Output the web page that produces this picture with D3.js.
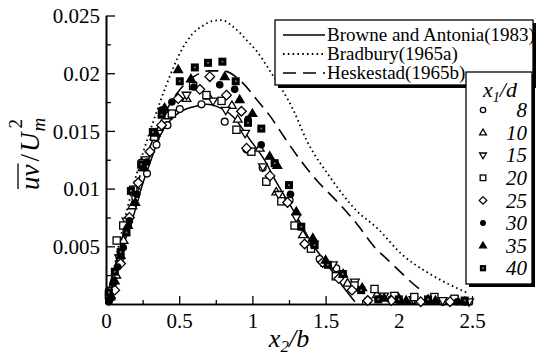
<!DOCTYPE html>
<html>
<head>
<meta charset="utf-8">
<script src="https://cdn.jsdelivr.net/npm/d3@7"></script>
<style>
  html, body { margin: 0; padding: 0; background: #fff; }
  svg { display: block; }
</style>
</head>
<body>
<svg id="chart" width="541" height="358"></svg>
<script>
// Reference curves: [x2/b, uv/Um^2]
const browneAntonia = [[0,0],[0.03,0.0019],[0.12,0.0052],[0.175,0.0071],[0.25,0.0104],[0.3,0.0122],[0.37,0.0146],[0.48,0.0164],[0.6,0.0171],[0.69,0.0173],[0.76,0.0171],[0.87,0.0162],[0.98,0.0143],[1.1,0.0121],[1.14,0.0111],[1.28,0.0081],[1.41,0.0052],[1.53,0.0031],[1.62,0.0015],[1.70,0.0002]];
const bradbury = [[0,0],[0.05,0.0028],[0.1,0.0058],[0.15,0.0085],[0.21,0.0113],[0.32,0.0157],[0.41,0.0189],[0.52,0.0221],[0.59,0.0234],[0.66,0.0241],[0.72,0.0245],[0.79,0.0246],[0.87,0.0240],[0.98,0.0226],[1.03,0.0219],[1.12,0.0202],[1.28,0.0168],[1.37,0.0142],[1.53,0.0110],[1.71,0.0081],[1.85,0.0066],[2.03,0.0042],[2.2,0.0027],[2.41,0.0013],[2.48,0.0009]];
const heskestad = [[0,0],[0.1,0.0052],[0.2,0.0098],[0.3,0.0136],[0.4,0.0165],[0.5,0.0185],[0.6,0.0197],[0.7,0.0202],[0.8,0.0202],[0.93,0.0192],[1.03,0.0177],[1.12,0.0163],[1.21,0.0146],[1.32,0.0126],[1.44,0.0107],[1.57,0.0090],[1.71,0.0070],[1.85,0.0047],[1.91,0.0040],[2.14,0.0013],[2.16,0.0011]];

const curveNames = ["Browne and Antonia(1983)", "Bradbury(1965a)", "Heskestad(1965b)"];

// Measured profiles for each x1/d station
const pts8 = [[0.02,0.0003],[0.05,0.0012],[0.1,0.0040],[0.15,0.0068],[0.2,0.0092],[0.28,0.0113],[0.345,0.0138],[0.42,0.0155],[0.504,0.0169],[0.652,0.0173],[0.811,0.0158],[0.959,0.0134],[1.07,0.0118],[1.254,0.0090],[1.459,0.0039],[1.573,0.0031],[1.70,0.0014],[1.788,0.0003],[1.95,0.0004],[2.1,0.0003],[2.3,0.0002],[2.45,0.0002]];
const pts10 = [[0.03,0.0008],[0.07,0.0025],[0.12,0.0055],[0.18,0.0085],[0.25,0.0118],[0.33,0.0145],[0.42,0.0163],[0.55,0.0178],[0.7,0.0180],[0.86,0.0172],[0.9,0.0160],[1.05,0.0135],[1.163,0.0097],[1.345,0.0060],[1.5,0.0035],[1.65,0.0018],[1.85,0.0008],[2.0,0.0005],[2.2,0.0004],[2.4,0.0003]];
const pts15 = [[0.04,0.0012],[0.09,0.0040],[0.14,0.0072],[0.2,0.0098],[0.27,0.0125],[0.36,0.0148],[0.55,0.0181],[0.731,0.0176],[0.818,0.0168],[0.95,0.0148],[1.072,0.0119],[1.18,0.0095],[1.3,0.0075],[1.42,0.0052],[1.55,0.0034],[1.7,0.0019],[1.9,0.0007],[2.1,0.0004],[2.3,0.0003],[2.48,0.0002]];
const pts20 = [[0.02,0.0008],[0.073,0.0055],[0.118,0.0068],[0.186,0.0099],[0.25,0.0122],[0.33,0.0145],[0.45,0.0165],[0.595,0.0189],[0.686,0.0181],[0.789,0.0176],[0.891,0.0151],[0.993,0.0132],[1.095,0.0106],[1.198,0.0089],[1.288,0.0068],[1.4,0.0048],[1.57,0.0024],[1.697,0.0016],[1.834,0.0013],[1.97,0.0007],[2.106,0.0006],[2.243,0.0006],[2.38,0.00045]];
const pts25 = [[0.03,0.0005],[0.06,0.0012],[0.1,0.0035],[0.16,0.0075],[0.22,0.0105],[0.3,0.0132],[0.38,0.0155],[0.493,0.0178],[0.641,0.0186],[0.709,0.0197],[0.823,0.0181],[0.925,0.0167],[0.96,0.0135],[1.12,0.0111],[1.24,0.0088],[1.357,0.0052],[1.48,0.0036],[1.59,0.0022],[1.68,0.0012],[1.788,0.0003],[1.95,0.0003],[2.15,0.0002],[2.35,0.0002]];
const pts30 = [[0.02,0.0002],[0.05,0.0018],[0.08,0.0032],[0.118,0.0049],[0.16,0.0072],[0.21,0.0095],[0.28,0.0123],[0.38,0.0168],[0.45,0.0175],[0.6,0.0188],[0.777,0.0190],[0.879,0.0186],[0.97,0.0160],[1.06,0.0138],[1.152,0.0122],[1.26,0.0095],[1.334,0.0067],[1.42,0.0051],[1.515,0.0034],[1.618,0.0026],[1.743,0.0012],[1.86,0.0004],[2.0,0.0003],[2.2,0.0003],[2.4,0.0002]];
const pts35 = [[0.03,0.0006],[0.06,0.0020],[0.1,0.0042],[0.15,0.0068],[0.2,0.0088],[0.26,0.0118],[0.34,0.0148],[0.4,0.0170],[0.493,0.0203],[0.58,0.0195],[0.811,0.0197],[0.913,0.0177],[1.0,0.0165],[1.118,0.0128],[1.17,0.0120],[1.3,0.0080],[1.413,0.0057],[1.5,0.0038],[1.62,0.0026],[1.75,0.0014],[1.9,0.0005],[2.05,0.0003],[2.25,0.0003],[2.45,0.0002]];
const pts40 = [[0.02,0.0010],[0.06,0.0028],[0.1,0.0045],[0.14,0.0062],[0.17,0.0098],[0.24,0.0121],[0.32,0.0149],[0.38,0.0164],[0.504,0.0193],[0.607,0.0205],[0.697,0.0209],[0.795,0.0210],[0.886,0.0193],[0.97,0.0157],[1.061,0.0152],[1.152,0.0122],[1.25,0.0103],[1.334,0.0067],[1.425,0.0051],[1.515,0.0034],[1.618,0.0026],[1.743,0.0012],[1.86,0.0004],[2.0,0.0004],[2.2,0.0004],[2.45,0.0003]];

const stations = ["8", "10", "15", "20", "25", "30", "35", "40"];
const stationPoints = [pts8, pts10, pts15, pts20, pts25, pts30, pts35, pts40];
const stationMarks = ["circle", "triUp", "triDown", "square", "diamond", "dot", "triFill", "squareFill"];

const xTicks = [0, 0.5, 1, 1.5, 2, 2.5];
const xMinor = [0.25, 0.75, 1.25, 1.75, 2.25];
const yTicks = [0.005, 0.01, 0.015, 0.02, 0.025];
const yMinor = [0.0025, 0.0075, 0.0125, 0.0175, 0.0225];

const SERIF = "'Liberation Serif', 'Times New Roman', Times, 'DejaVu Serif', serif";

const svg = d3.select("#chart");
const x = d3.scaleLinear().domain([0, 2.5]).range([106, 472]);
const y = d3.scaleLinear().domain([0, 0.025]).range([304, 15.5]);

// Axes: ticks point inward
svg.append("g").attr("transform", `translate(0,${y(0)})`)
  .call(d3.axisBottom(x).tickValues(xTicks).tickSize(-8).tickSizeOuter(0).tickPadding(9)
    .tickFormat(d => d3.format("")(d)));
svg.append("g").attr("transform", `translate(0,${y(0)})`)
  .call(d3.axisBottom(x).tickValues(xMinor).tickSize(-4).tickSizeOuter(0).tickFormat(""));
const yAxis = svg.append("g").attr("transform", `translate(${x(0)},0)`)
  .call(d3.axisLeft(y).tickValues(yTicks).tickSize(-9).tickSizeOuter(0).tickPadding(6)
    .tickFormat(d => d3.format("")(d)));
svg.append("g").attr("transform", `translate(${x(0)},0)`)
  .call(d3.axisLeft(y).tickValues(yMinor).tickSize(-5).tickSizeOuter(0).tickFormat(""));

svg.selectAll(".domain").attr("stroke", "#000").attr("stroke-width", 1.6);
svg.selectAll(".tick line").attr("stroke", "#000").attr("stroke-width", 1.3);
svg.selectAll(".tick text").attr("font-family", null).attr("font-size", null)
  .style("font-family", SERIF).style("font-size", "21px").attr("fill", "#000");
yAxis.selectAll(".tick text").attr("dy", "0.34em");

// Reference curves
const line = d3.line().x(d => x(d[0])).y(d => y(d[1])).curve(d3.curveMonotoneX);
const curveStyles = [
  { data: browneAntonia, dash: null, w: 1.5 },
  { data: bradbury, dash: "1.6,3.2", w: 1.8 },
  { data: heskestad, dash: "13,7", w: 1.6 }
];
curveStyles.forEach(c => {
  svg.append("path").datum(c.data).attr("d", line)
    .attr("fill", "none").attr("stroke", "#000").attr("stroke-width", c.w)
    .attr("stroke-dasharray", c.dash);
});

// Marker drawing
function drawMark(g, type, cx, cy, s) {
  const k = s || 1;
  const sw = 1.3;
  switch (type) {
    case "circle":
      g.append("circle").attr("cx", cx).attr("cy", cy).attr("r", 3.4 * k)
        .attr("fill", "#fff").attr("stroke", "#000").attr("stroke-width", sw); break;
    case "dot":
      g.append("circle").attr("cx", cx).attr("cy", cy).attr("r", 3.8 * k).attr("fill", "#000"); break;
    case "triUp":
    case "triFill":
    case "triDown": {
      const r = 4.6 * k, dir = type === "triDown" ? -1 : 1;
      const p = `M${cx},${cy - dir * r}L${cx + r * 0.95},${cy + dir * r * 0.62}L${cx - r * 0.95},${cy + dir * r * 0.62}Z`;
      g.append("path").attr("d", p)
        .attr("fill", type === "triFill" ? "#000" : "#fff").attr("stroke", "#000").attr("stroke-width", sw)
        .attr("stroke-linejoin", "miter"); break;
    }
    case "square":
      g.append("rect").attr("x", cx - 3.6 * k).attr("y", cy - 3.6 * k).attr("width", 7.2 * k).attr("height", 7.2 * k)
        .attr("fill", "#fff").attr("stroke", "#000").attr("stroke-width", sw); break;
    case "squareFill":
      g.append("rect").attr("x", cx - 4 * k).attr("y", cy - 4 * k).attr("width", 8 * k).attr("height", 8 * k)
        .attr("fill", "#000");
      g.append("rect").attr("x", cx - 0.9).attr("y", cy - 0.9).attr("width", 1.8).attr("height", 1.8)
        .attr("fill", "#777"); break;
    case "diamond": {
      const r = 4.8 * k;
      g.append("path").attr("d", `M${cx},${cy - r}L${cx + r},${cy}L${cx},${cy + r}L${cx - r},${cy}Z`)
        .attr("fill", "#fff").attr("stroke", "#000").attr("stroke-width", sw); break;
    }
  }
}

const marks = svg.append("g");
stationPoints.forEach((pts, i) => {
  pts.forEach(p => drawMark(marks, stationMarks[i], x(p[0]), y(p[1])));
});

function label(g) {
  return g.append("text").style("font-family", SERIF).attr("fill", "#000");
}

// Legend for the reference curves
const lg1 = svg.append("g");
lg1.append("rect").attr("x", 278).attr("y", 23).attr("width", 258).attr("height", 65).attr("fill", "#000");
lg1.append("rect").attr("x", 275).attr("y", 20).attr("width", 258).attr("height", 65)
  .attr("fill", "#fff").attr("stroke", "#000").attr("stroke-width", 1.3);
curveNames.forEach((name, i) => {
  const yy = 35 + i * 19;
  lg1.append("line").attr("x1", 283).attr("x2", 325).attr("y1", yy).attr("y2", yy)
    .attr("stroke", "#000").attr("stroke-width", curveStyles[i].w)
    .attr("stroke-dasharray", curveStyles[i].dash);
  label(lg1).attr("x", 327).attr("y", yy).attr("dy", "0.33em")
    .style("font-size", "19px").text(name);
});

// Legend for the x1/d stations
const lg2 = svg.append("g");
lg2.append("rect").attr("x", 469).attr("y", 75).attr("width", 66).attr("height", 212).attr("fill", "#000");
lg2.append("rect").attr("x", 466).attr("y", 72).attr("width", 66).attr("height", 212)
  .attr("fill", "#fff").attr("stroke", "#000").attr("stroke-width", 1.3);
const ttl = label(lg2).attr("x", 500).attr("y", 97).attr("text-anchor", "middle")
  .style("font-size", "22px").style("font-style", "italic");
ttl.append("tspan").text("x");
ttl.append("tspan").attr("dy", 5).style("font-size", "14px").text("1");
ttl.append("tspan").attr("dy", -5).text("/d");
stations.forEach((s, i) => {
  const yy = 110 + i * 22.6;
  drawMark(lg2, stationMarks[i], 483, yy, 0.78);
  label(lg2).attr("x", 527).attr("y", yy).attr("dy", "0.34em").attr("text-anchor", "end")
    .style("font-size", "21px").style("font-style", "italic").text(s);
});

// Axis titles
const xl = label(svg).attr("x", 289).attr("y", 347).attr("text-anchor", "middle")
  .style("font-size", "26px").style("font-style", "italic");
xl.append("tspan").text("x");
xl.append("tspan").attr("dy", 5).style("font-size", "17px").text("2");
xl.append("tspan").attr("dy", -5).text("/b");

const yl = svg.append("g").attr("transform", "translate(39,190) rotate(-90)");
let cx = 0;
function piece(txt, size, italic, dy, gap) {
  const t = label(yl).attr("x", cx + (gap || 0)).attr("y", dy || 0)
    .style("font-size", size + "px").style("font-style", italic ? "italic" : "normal").text(txt);
  const w = t.node().getComputedTextLength();
  const start = cx + (gap || 0);
  cx = start + w;
  return { start, w };
}
const uv = piece("uv", 27, true, 0, 0);
yl.append("line").attr("x1", uv.start + 1).attr("x2", uv.start + uv.w + 1).attr("y1", -21).attr("y2", -21)
  .attr("stroke", "#000").attr("stroke-width", 1.3);
piece("/", 27, false, 0, 3);
piece("U", 27, true, 0, 2);
const m = piece("m", 19, true, 6, 1);
label(yl).attr("x", m.start + 3).attr("y", -17)
  .style("font-size", "19px").text("2");
</script>
</body>
</html>
